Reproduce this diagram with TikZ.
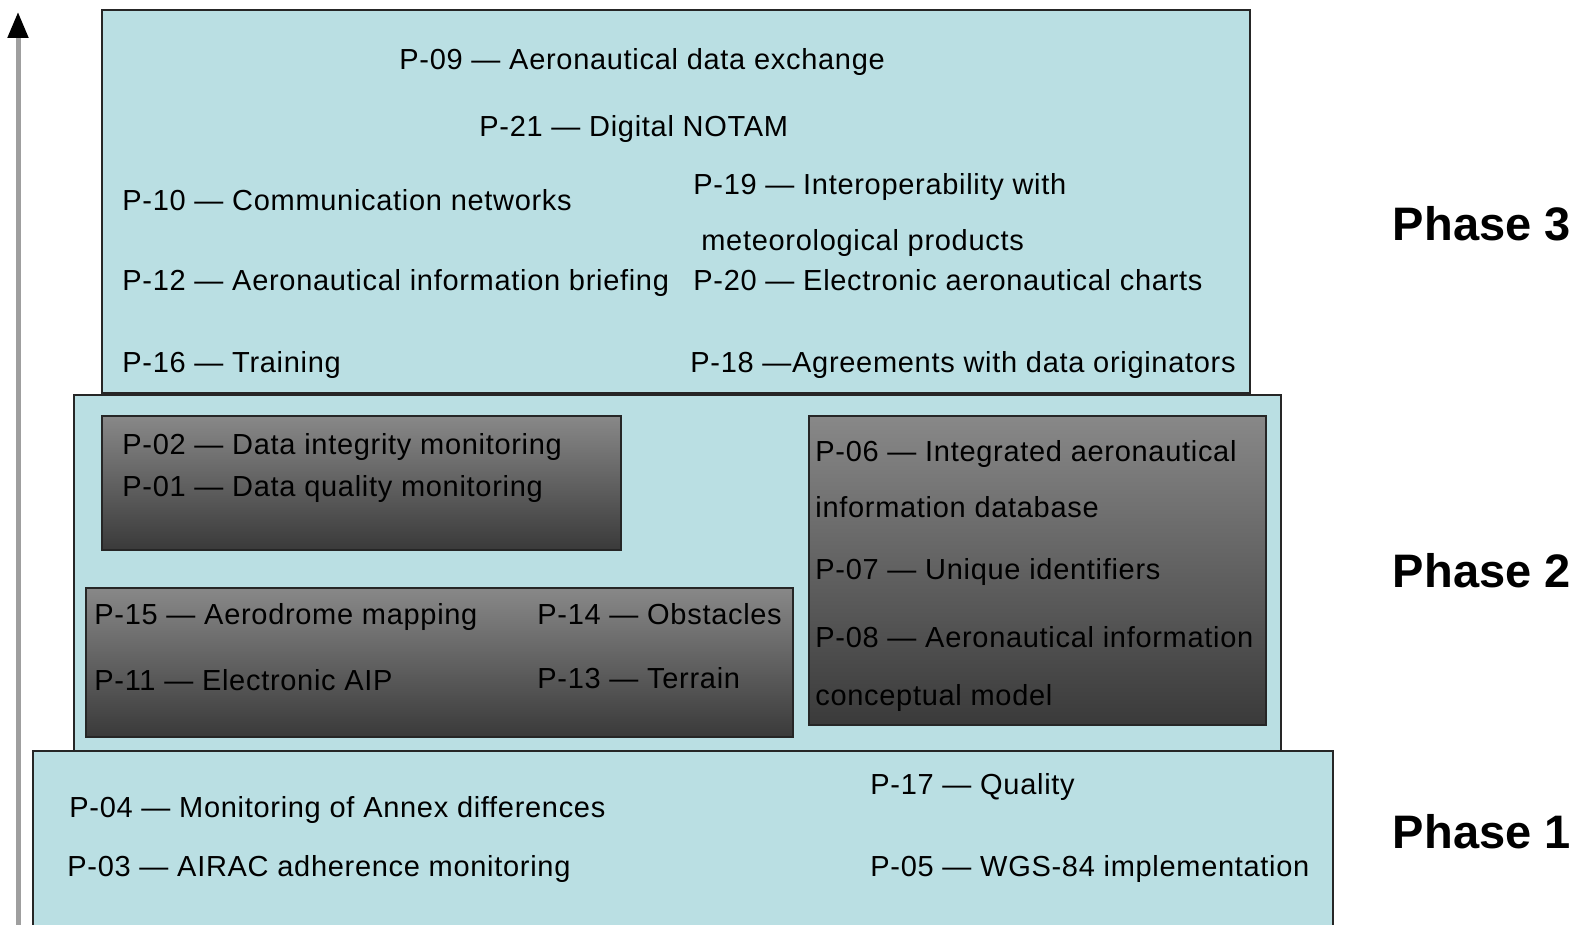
\documentclass[tikz,border=0pt]{standalone}
\usepackage{fontspec}
\setmainfont{Liberation Sans}
\newfontfamily\itemfont[LetterSpace=2.4]{Liberation Sans}
\usetikzlibrary{arrows.meta}

\definecolor{phasecyan}{RGB}{186,223,227}
\definecolor{darktop}{RGB}{136,136,136}
\definecolor{darkbot}{RGB}{58,58,58}

\begin{document}
\begin{tikzpicture}[x=0.5pt,y=-0.5pt]
    \tikzstyle{phase box}=[draw=black!85, line width=1pt, fill=phasecyan]
    \tikzstyle{dark box}=[draw=black!85, line width=1pt, top color=darktop, bottom color=darkbot]
    \tikzstyle{item}=[anchor=base west, inner sep=0pt, font=\itemfont\fontsize{14.5}{17}\selectfont]
    \tikzstyle{phase label}=[anchor=base east, inner sep=0pt, font=\fontsize{23.5}{28}\selectfont\bfseries]

    \useasboundingbox (0,0) rectangle (1581,925);

    % time axis
    \coordinate (axis-start) at (18,925);
    \coordinate (axis-end) at (18,12);
    \draw[line width=2.5pt, gray!75, -{Triangle[color=black, length=13pt, width=10pt]}] (axis-start) -- (axis-end);

    % phase boxes
    \draw[phase box] (102,10) rectangle (1250,393);
    \draw[phase box] (74,395) rectangle (1281,751);
    \fill[phasecyan] (33,751) rectangle (1333,925);
    \draw[black!85, line width=1pt] (33,925) -- (33,751) -- (1333,751) -- (1333,925);

    % dark groups in phase 2
    \draw[dark box] (102,416) rectangle (621,550);
    \draw[dark box] (86,588) rectangle (793,737);
    \draw[dark box] (809,416) rectangle (1266,725);

    % Phase 3
    \node[item] (P-09) at (399,70) {P-09 — Aeronautical data exchange};
    \node[item] (P-21) at (479,137) {P-21 — Digital NOTAM};
    \node[item] (P-10) at (122,211) {P-10 — Communication networks};
    \node[item] (P-19) at (693,195) {P-19 — Interoperability with};
    \node[item] (P-19b) at (701,251) {meteorological products};
    \node[item] (P-12) at (122,291) {P-12 — Aeronautical information briefing};
    \node[item] (P-20) at (693,291) {P-20 — Electronic aeronautical charts};
    \node[item] (P-16) at (122,372) {P-16 — Training};
    \node[item] (P-18) at (690,372) {P-18 —Agreements with data originators};

    % Phase 2
    \node[item] (P-02) at (122,454) {P-02 — Data integrity monitoring};
    \node[item] (P-01) at (122,496) {P-01 — Data quality monitoring};
    \node[item] (P-06) at (815,461) {P-06 — Integrated aeronautical};
    \node[item] (P-06b) at (815,517) {information database};
    \node[item] (P-07) at (815,579) {P-07 — Unique identifiers};
    \node[item] (P-08) at (815,647) {P-08 — Aeronautical information};
    \node[item] (P-08b) at (815,705) {conceptual model};
    \node[item] (P-15) at (94,624) {P-15 — Aerodrome mapping};
    \node[item] (P-14) at (537,624) {P-14 — Obstacles};
    \node[item] (P-11) at (94,690) {P-11 — Electronic AIP};
    \node[item] (P-13) at (537,688) {P-13 — Terrain};

    % Phase 1
    \node[item] (P-04) at (69,817) {P-04 — Monitoring of Annex differences};
    \node[item] (P-03) at (67,876) {P-03 — AIRAC adherence monitoring};
    \node[item] (P-17) at (870,794) {P-17 — Quality};
    \node[item] (P-05) at (870,876) {P-05 — WGS-84 implementation};

    % phase labels
    \node[phase label] (ph3) at (1571,241) {Phase 3};
    \node[phase label] (ph2) at (1571,587) {Phase 2};
    \node[phase label] (ph1) at (1571,848) {Phase 1};

\end{tikzpicture}
\end{document}
